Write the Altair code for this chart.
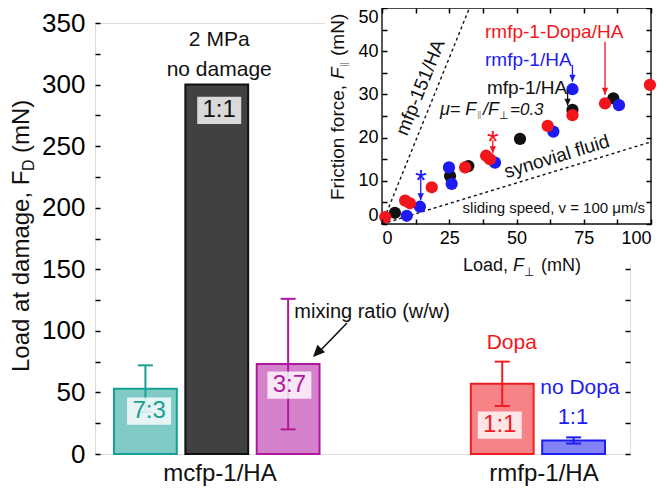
import altair as alt
import pandas as pd

FONT = "Liberation Sans"
BLACK = "#111111"
RED = "#f2161c"
BLUE = "#1c1cf2"
GRAY = "#9a9a9a"

# ---------------- main chart: load at damage ----------------
slots = ["7:3", "1:1", "3:7", "gap a", "gap b", "Dopa 1:1", "no Dopa 1:1"]
bar_slot = ["7:3", "1:1", "3:7", "Dopa 1:1", "no Dopa 1:1"]
bar_load = [53, 300, 73, 57, 11]
bar_err = [19, 0, 53, 18, 2.5]
ratio_text = ["7:3", "1:1", "3:7", "1:1"]

# styles / annotation anchors (kept apart from the values)
bar_color = ["#17a096", BLACK, "#b0189f", "#f01d24", "#1d1df0"]
bar_fill_opacity = [0.55, 0.8, 0.55, 0.55, 0.55]
ratio_at = [34.8, 279, 56, 23.5]

# ---------------- inset: friction vs load ----------------
mfp_load = [4.8, 25.3, 32.1, 51.3, 70.8, 86.0]
mfp_friction = [2.6, 11.1, 13.4, 19.7, 26.4, 29.1]
rmfp_load = [9.2, 14.1, 24.9, 25.9, 42.0, 63.7, 70.8, 88.1]
rmfp_friction = [1.9, 4.0, 13.1, 9.3, 14.2, 21.4, 31.2, 27.5]
dopa_load = [1.2, 8.6, 10.4, 18.5, 30.9, 38.7, 40.1, 61.6, 70.8, 82.9, 99.6]
dopa_friction = [1.6, 5.4, 4.8, 8.5, 13.1, 15.8, 15.0, 22.7, 25.2, 27.9, 32.2]
ref_line_name = ["mfp-151/HA", "synovial fluid"]
ref_line_end_load = [32.5, 100]
ref_line_end_friction = [50, 19]

arrow_load = [70.8, 82.9, 69.0, 41.2, 14.4]
arrow_from = [36.8, 42.2, 31.0, 19.4, 11.0]
arrow_to = [32.9, 29.9, 27.4, 16.4, 5.5]
arrow_color = [BLUE, RED, BLACK, RED, BLUE]


def xband():
    return alt.Scale(domain=slots, range=[19, 510], paddingInner=0.12, paddingOuter=0)


def yload():
    return alt.Scale(domain=[0, 350], nice=False)


def xin():
    return alt.Scale(domain=[0, 100], range=[287, 556], nice=False)


def yin():
    return alt.Scale(domain=[0, 50], range=[201, -15], nice=False)


ticks_main = list(range(0, 351, 25))
common_axis = dict(domain=False, grid=False, title=None, tickColor="black", tickWidth=1.5,
                   labelColor="black", labelFont=FONT, labelOverlap=False)
left_axis = alt.Axis(orient="left", values=ticks_main, tickSize=5, offset=-5,
                     labelExpr="datum.value % 50 === 0 ? datum.label : ''",
                     labelFontSize=26, labelPadding=10, zindex=0, **common_axis)
right_axis = alt.Axis(orient="right", values=ticks_main, tickSize=5, offset=-5,
                      labels=False, zindex=0, **common_axis)

ticks_in_y = list(range(0, 51, 5))
ticks_in_x = [i * 12.5 for i in range(9)]
in_left = alt.Axis(orient="left", values=ticks_in_y, tickSize=5, offset=-292,
                   labelExpr="datum.value % 10 === 0 ? datum.label : ''", labelFlush=True,
                   labelFontSize=18, labelPadding=4, zindex=1, **common_axis)
in_bottom = alt.Axis(orient="bottom", values=ticks_in_x, tickSize=5, offset=-235,
                     labelExpr="datum.value % 25 === 0 ? datum.label : ''",
                     labelFontSize=18, labelPadding=5, zindex=1, **common_axis)
in_top = alt.Axis(orient="top", values=ticks_in_x, tickSize=5, offset=10, labels=False,
                  zindex=1, **common_axis)
in_right = alt.Axis(orient="right", values=ticks_in_y, tickSize=5, offset=16, labels=False,
                    zindex=1, **common_axis)

BOX = "M-1,-0.62L1,-0.62L1,0.62L-1,0.62Z"
HEAD = "M0,0L-0.45,-1L0.45,-1Z"

bars_df = pd.DataFrame({"slot": bar_slot, "load": bar_load, "err": bar_err,
                        "color": bar_color, "fop": bar_fill_opacity})
bars_df["lo"] = bars_df["load"] - bars_df["err"]
bars_df["hi"] = bars_df["load"] + bars_df["err"]
err_df = bars_df[bars_df["err"] > 0]
lab_df = pd.DataFrame({"slot": bar_slot[:4], "v": ratio_at, "t": ratio_text, "color": bar_color[:4]})

layers = []

layers.append(alt.Chart(bars_df).mark_bar(strokeWidth=2).encode(
    x=alt.X("slot:N", scale=xband(), axis=None),
    y=alt.Y("load:Q", scale=yload(), axis=left_axis),
    fill=alt.Fill("color:N", scale=None),
    stroke=alt.Stroke("color:N", scale=None),
    fillOpacity=alt.FillOpacity("fop:Q", scale=None),
))

layers.append(alt.Chart(err_df).mark_rule(strokeWidth=2).encode(
    x=alt.X("slot:N", scale=xband(), axis=None),
    y=alt.Y("lo:Q", scale=yload(), axis=right_axis),
    y2="hi:Q",
    color=alt.Color("color:N", scale=None),
))

layers.append(alt.Chart(err_df).transform_fold(["lo", "hi"], as_=["end", "v"]).mark_tick(
    size=15, thickness=2, opacity=1).encode(
    x=alt.X("slot:N", scale=xband(), axis=None),
    y=alt.Y("v:Q", scale=yload(), axis=None),
    color=alt.Color("color:N", scale=None),
))

layers.append(alt.Chart(lab_df).mark_point(shape=BOX, filled=True, color="white", opacity=0.8,
                                           size=44 * 44).encode(
    x=alt.X("slot:N", scale=xband(), axis=None),
    y=alt.Y("v:Q", scale=yload(), axis=None),
))

layers.append(alt.Chart(lab_df).mark_text(fontSize=24, font=FONT, baseline="middle").encode(
    x=alt.X("slot:N", scale=xband(), axis=None),
    y=alt.Y("v:Q", scale=yload(), axis=None),
    text="t:N",
    color=alt.Color("color:N", scale=None),
))


def main_text(slot, v, text, size, color=BLACK, align="center", dx=0):
    return alt.Chart(pd.DataFrame({"slot": [slot], "v": [v], "t": [text]})).mark_text(
        fontSize=size, font=FONT, color=color, align=align, baseline="middle", dx=dx).encode(
        x=alt.X("slot:N", scale=xband(), axis=None),
        y=alt.Y("v:Q", scale=yload(), axis=None),
        text="t:N")


def px_text(x, y, text, size, color=BLACK, align="left", angle=0, style="normal"):
    return alt.Chart(pd.DataFrame({"t": [text]})).mark_text(
        x=x, y=y, align=align, baseline="middle", angle=angle, fontSize=size, color=color,
        font=FONT, fontStyle=style).encode(text="t:N")


def inset_text(x, y, text, size, color=BLACK, align="left", angle=0, style="normal", dy=0):
    return alt.Chart(pd.DataFrame({"x": [x], "y": [y], "t": [text]})).mark_text(
        align=align, baseline="middle", angle=angle, fontSize=size, color=color, font=FONT,
        fontStyle=style, dy=dy).encode(
        x=alt.X("x:Q", scale=xin(), axis=None),
        y=alt.Y("y:Q", scale=yin(), axis=None),
        text="t:N")


layers += [
    main_text("1:1", 336, "2 MPa", 21),
    main_text("1:1", 312, "no damage", 21),
    main_text("3:7", 115.6, "mixing ratio (w/w)", 20, align="left", dx=5),
    main_text("Dopa 1:1", 90.5, "Dopa", 21, color=RED, dx=12),
    main_text("no Dopa 1:1", 53.4, "no Dopa", 21, color=BLUE, dx=10),
    main_text("no Dopa 1:1", 30, "1:1", 22, color=BLUE, dx=3),
]

# arrow pointing at the 3:7 bar
layers.append(alt.Chart(pd.DataFrame({"a": [0]})).mark_rule(color=BLACK, strokeWidth=1.6).encode(
    x=alt.value(252), x2=alt.value(222), y=alt.value(300), y2=alt.value(331)))
layers.append(alt.Chart(pd.DataFrame({"a": [0]})).mark_point(
    shape=HEAD, filled=True, color=BLACK, opacity=1, size=560, angle=44).encode(
    x=alt.value(218), y=alt.value(334)))

# group labels and y title
layers += [
    px_text(125, 451, "mcfp-1/HA", 24, align="center"),
    px_text(449, 451, "rmfp-1/HA", 24, align="center"),
    px_text(-73, 349, "Load at damage, F", 24, angle=270),
    px_text(-66, 148, "D", 16, angle=270),
    px_text(-73, 130, "(mN)", 24, angle=270),
]

# white background of the inset
layers.append(alt.Chart(pd.DataFrame({"a": [0]})).mark_rect(color="white", opacity=1).encode(
    x=alt.value(230), x2=alt.value(600), y=alt.value(-32), y2=alt.value(241)))

# inset frame (carries top and right axes)
layers.append(alt.Chart(pd.DataFrame({"x0": [0], "x1": [100], "y0": [0], "y1": [50]})).mark_rect(
    fillOpacity=0, stroke=BLACK, strokeWidth=1.4).encode(
    x=alt.X("x0:Q", scale=xin(), axis=in_top), x2="x1:Q",
    y=alt.Y("y0:Q", scale=yin(), axis=in_right), y2="y1:Q"))

# reference lines
line_rows = []
for n, lx, ly in zip(ref_line_name, ref_line_end_load, ref_line_end_friction):
    line_rows += [{"name": n, "x": 0, "y": 0}, {"name": n, "x": lx, "y": ly}]
layers.append(alt.Chart(pd.DataFrame(line_rows)).mark_line(
    color=BLACK, strokeWidth=1.4, strokeDash=[3, 3]).encode(
    x=alt.X("x:Q", scale=xin(), axis=None),
    y=alt.Y("y:Q", scale=yin(), axis=None),
    detail="name:N"))

# points
pt_rows = []
for name, xs_, ys_, c in [("mfp-1/HA", mfp_load, mfp_friction, BLACK),
                          ("rmfp-1/HA", rmfp_load, rmfp_friction, BLUE),
                          ("rmfp-1-Dopa/HA", dopa_load, dopa_friction, RED)]:
    for a, b in zip(xs_, ys_):
        pt_rows.append({"series": name, "x": a, "y": b, "color": c})
layers.append(alt.Chart(pd.DataFrame(pt_rows)).mark_circle(size=150, opacity=1).encode(
    x=alt.X("x:Q", scale=xin(), axis=in_bottom),
    y=alt.Y("y:Q", scale=yin(), axis=in_left),
    color=alt.Color("color:N", scale=None)))

# arrows
arr_df = pd.DataFrame({"x": arrow_load, "y1": arrow_from, "y2": arrow_to, "color": arrow_color})
layers.append(alt.Chart(arr_df).mark_rule(strokeWidth=1.3).encode(
    x=alt.X("x:Q", scale=xin(), axis=None),
    y=alt.Y("y1:Q", scale=yin(), axis=None), y2="y2:Q",
    color=alt.Color("color:N", scale=None)))
layers.append(alt.Chart(arr_df).mark_point(shape=HEAD, filled=True, opacity=1, size=196).encode(
    x=alt.X("x:Q", scale=xin(), axis=None),
    y=alt.Y("y2:Q", scale=yin(), axis=None),
    color=alt.Color("color:N", scale=None)))

layers += [
    inset_text(41.2, 21.4, "*", 30, color=RED, align="center", dy=10),
    inset_text(14.4, 12.2, "*", 30, color=BLUE, align="center", dy=10),
    inset_text(38.3, 44.4, "rmfp-1-Dopa/HA", 19, color=RED),
    inset_text(38.3, 38.0, "rmfp-1/HA", 19, color=BLUE),
    inset_text(39.0, 31.5, "mfp-1/HA", 19),
    inset_text(14.3, 31.6, "mfp-151/HA", 19, align="center", angle=292),
    inset_text(65.0, 15.6, "synovial fluid", 19, align="center", angle=343),
    inset_text(97.8, 3.7, "sliding speed, v = 100 μm/s", 15, align="right"),
    # mu label
    px_text(345, 87, "μ= F", 18, style="italic"),
    px_text(382, 93, "‖", 11, color=GRAY),
    px_text(388, 87, "/F", 18, style="italic"),
    px_text(404, 93, "⊥", 11),
    px_text(415, 87, "=0.3", 17, style="italic"),
    # inset x title
    px_text(368, 243, "Load,", 18),
    px_text(418, 243, "F", 18, style="italic"),
    px_text(429, 249, "⊥", 12),
    px_text(446, 243, "(mN)", 18),
    # inset y title
    px_text(243, 177, "Friction force,", 19, angle=270),
    px_text(243, 56, "F", 19, angle=270, style="italic"),
    px_text(250, 44, "‖", 12, color=GRAY, angle=270),
    px_text(243, 33, "(mN)", 19, angle=270),
]

chart = alt.layer(*layers).resolve_scale(x="independent", y="independent").properties(
    width=535, height=431,
    padding={"left": 87, "top": 15, "right": 28, "bottom": 32},
    autosize=alt.AutoSizeParams(type="none"),
).configure_view(stroke="black", strokeWidth=1.6).configure(font=FONT)

chart.save("out.html", embed_options={"renderer": "svg", "actions": False})
